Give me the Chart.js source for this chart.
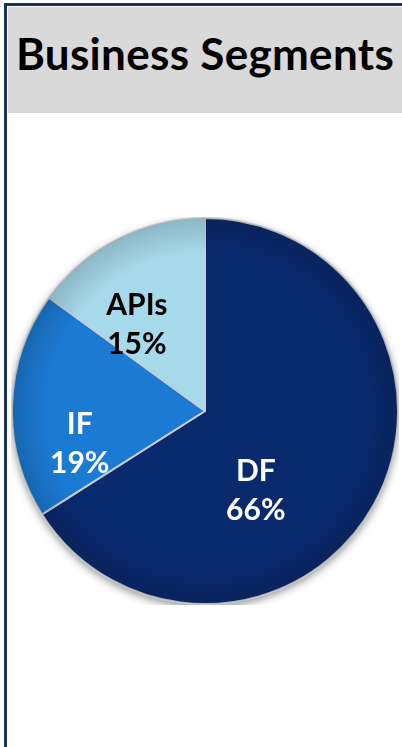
<!DOCTYPE html>
<html>
<head>
<meta charset="utf-8">
<script src="https://cdn.jsdelivr.net/npm/chart.js@4"></script>
<style>
  html, body { margin: 0; padding: 0; background: #ffffff; width: 402px; height: 747px; overflow: hidden; }
  #frame { position: absolute; left: 4px; top: 3px; width: 420px; height: 780px; border-left: 3px solid #1e3350; border-top: 3px solid #1e3350; box-sizing: border-box; }
  #titlebox { position: absolute; left: 8px; top: 7px; width: 400px; height: 106px; background: #d9d9d9; }
  #title { position: absolute; left: 4px; top: 27px; width: 402px; text-align: center; font-family: Lato, "Open Sans", sans-serif; font-weight: 700; font-size: 44px; line-height: 52px; color: #000; white-space: nowrap; letter-spacing: 0.3px; }
  #chartwrap { position: absolute; left: 11px; top: 217px; width: 388px; height: 388px; }
</style>
</head>
<body>
<div id="frame"></div>
<div id="titlebox"></div>
<div id="title">Business Segments</div>
<div id="chartwrap"><canvas id="c"></canvas></div>
<script>
const categories = ["DF", "IF", "APIs"];
const shares = [66, 19, 15];
const sliceColors = ["#0a2a6e", "#1b7ad2", "#a6d9ea"];
const labelColors = ["#ffffff", "#ffffff", "#000000"];

// label placement tweaks (degrees shift from slice mid angle, fraction of radius)
const labelAngleShift = [28.7, -16.1, -11.3];
const labelRadiusFrac = [0.49, 0.67, 0.57];

const shadowPlugin = {
  id: 'pieShadow',
  beforeDatasetsDraw(chart) {
    const meta = chart.getDatasetMeta(0);
    if (!meta.data.length) return;
    const a = meta.data[0];
    const ctx = chart.ctx;
    ctx.save();
    ctx.shadowColor = 'rgba(0,0,0,0.45)';
    ctx.shadowBlur = 8;
    ctx.shadowOffsetY = 3;
    ctx.beginPath();
    ctx.arc(a.x, a.y, a.outerRadius, 0, Math.PI * 2);
    ctx.fillStyle = '#0a2a6e';
    ctx.fill();
    ctx.restore();
  },
  afterDatasetsDraw(chart) {
    const meta = chart.getDatasetMeta(0);
    if (!meta.data.length) return;
    const a = meta.data[0];
    const ctx = chart.ctx;
    ctx.save();
    const g = ctx.createRadialGradient(a.x, a.y, a.outerRadius * 0.82, a.x, a.y, a.outerRadius);
    g.addColorStop(0, 'rgba(0,0,0,0)');
    g.addColorStop(1, 'rgba(0,0,0,0.16)');
    ctx.beginPath();
    ctx.arc(a.x, a.y, a.outerRadius, 0, Math.PI * 2);
    ctx.fillStyle = g;
    ctx.fill();
    ctx.restore();
    ctx.save();
    ctx.font = '700 30px Lato, "Open Sans", sans-serif';
    ctx.textAlign = 'center';
    ctx.textBaseline = 'middle';
    meta.data.forEach((arc, i) => {
      const mid = (arc.startAngle + arc.endAngle) / 2 + labelAngleShift[i] * Math.PI / 180;
      const r = arc.outerRadius * labelRadiusFrac[i];
      const x = arc.x + Math.cos(mid) * r;
      const y = arc.y + Math.sin(mid) * r;
      ctx.fillStyle = labelColors[i];
      ctx.fillText(categories[i], x, y - 19);
      ctx.fillText(shares[i] + '%', x, y + 20);
    });
    ctx.restore();
  }
};

new Chart(document.getElementById('c'), {
  type: 'pie',
  data: {
    labels: categories,
    datasets: [{
      data: shares,
      backgroundColor: sliceColors,
      borderColor: '#c9cdd2',
      borderWidth: 2
    }]
  },
  options: {
    responsive: true,
    maintainAspectRatio: false,
    animation: false,
    layout: { padding: 0 },
    plugins: { legend: { display: false }, tooltip: { enabled: false } }
  },
  plugins: [shadowPlugin]
});
</script>
</body>
</html>
